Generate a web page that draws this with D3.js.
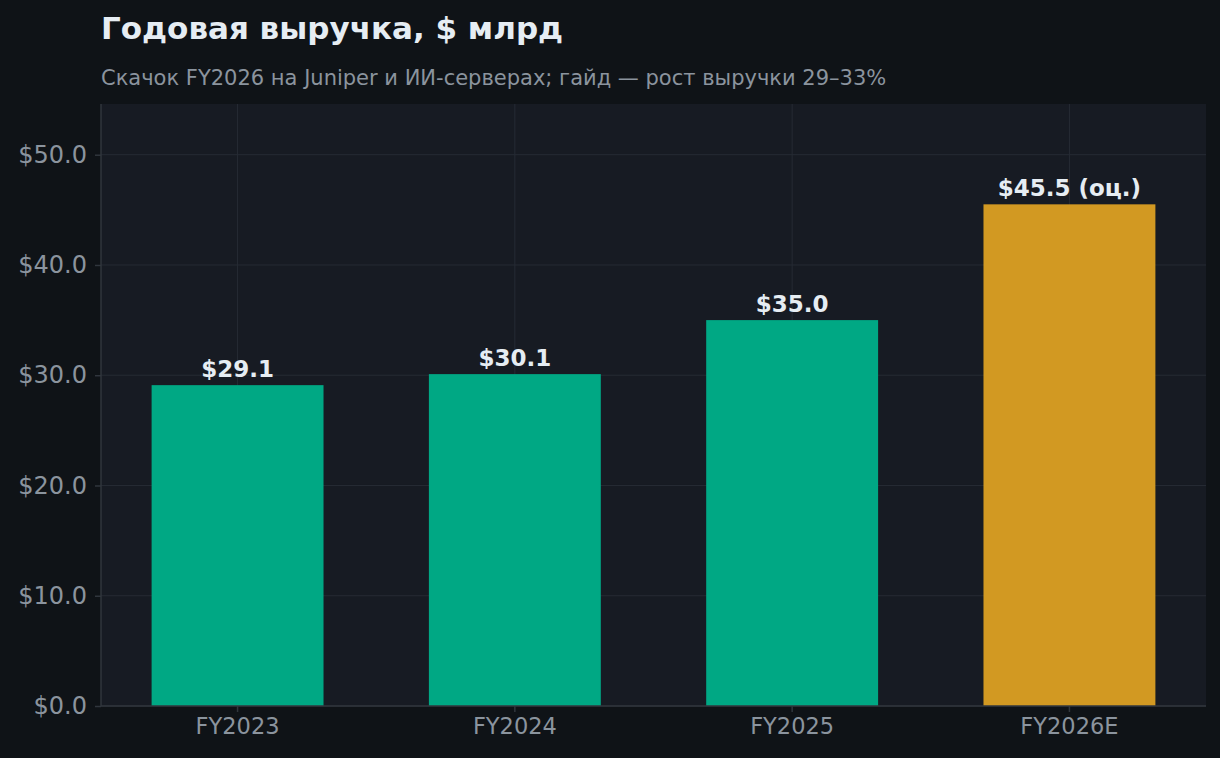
<!DOCTYPE html>
<html>
<head>
<meta charset="utf-8">
<script src="https://cdn.jsdelivr.net/npm/d3@7"></script>
<style>
  body { margin: 0; background: #0f1317; }
  svg { display: block; font-family: "DejaVu Sans", sans-serif; }
</style>
</head>
<body>
<div id="chart"></div>
<script>
// chart data
var years = ["FY2023", "FY2024", "FY2025", "FY2026E"];
var revenue = [29.1, 30.1, 35.0, 45.5];
var barLabels = ["$29.1", "$30.1", "$35.0", "$45.5 (оц.)"];
var isEstimate = [false, false, false, true];
var yTicks = [0, 10, 20, 30, 40, 50];

var width = 1220, height = 758;
var margin = { top: 104, right: 14, bottom: 52, left: 101 };
var plotW = width - margin.left - margin.right;
var plotH = height - margin.top - margin.bottom;

var svg = d3.select("#chart").append("svg")
    .attr("width", width)
    .attr("height", height);

svg.append("rect").attr("width", width).attr("height", height).attr("fill", "#0f1317");

// title + subtitle
svg.append("text")
    .attr("x", 101).attr("y", 38.5)
    .attr("fill", "#e6edf3")
    .attr("font-size", 31).attr("font-weight", "bold")
    .text("Годовая выручка, $ млрд");

svg.append("text")
    .attr("x", 101).attr("y", 84.5)
    .attr("fill", "#8b949e")
    .attr("font-size", 21)
    .text("Скачок FY2026 на Juniper и ИИ-серверах; гайд — рост выручки 29–33%");

var g = svg.append("g").attr("transform", `translate(${margin.left},${margin.top})`);

g.append("rect").attr("width", plotW).attr("height", plotH).attr("fill", "#171b23");

// scales
var x = d3.scaleBand().domain(years).range([0, plotW]).paddingInner(0.38).paddingOuter(0.1825);
var y = d3.scaleLinear().domain([0, d3.max(revenue) * 1.2]).range([plotH, 0]);

// grid
g.selectAll(".hgrid").data(yTicks).enter().append("line")
    .attr("x1", 0).attr("x2", plotW)
    .attr("y1", d => y(d)).attr("y2", d => y(d))
    .attr("stroke", "#262b34").attr("stroke-width", 1);

g.selectAll(".vgrid").data(years).enter().append("line")
    .attr("x1", d => x(d) + x.bandwidth() / 2).attr("x2", d => x(d) + x.bandwidth() / 2)
    .attr("y1", 0).attr("y2", plotH)
    .attr("stroke", "#262b34").attr("stroke-width", 1);

// bars
g.selectAll(".bar").data(years).enter().append("rect")
    .attr("x", d => x(d))
    .attr("width", x.bandwidth())
    .attr("y", (d, i) => y(revenue[i]))
    .attr("height", (d, i) => plotH - y(revenue[i]))
    .attr("fill", (d, i) => isEstimate[i] ? "#d29922" : "#00a884");

// value labels
g.selectAll(".val").data(years).enter().append("text")
    .attr("x", d => x(d) + x.bandwidth() / 2)
    .attr("y", (d, i) => y(revenue[i]) - 8)
    .attr("text-anchor", "middle")
    .attr("fill", "#e6edf3")
    .attr("font-size", 23).attr("font-weight", "bold")
    .text((d, i) => barLabels[i]);

// axes
var yAxis = d3.axisLeft(y).tickValues(yTicks).tickFormat(d => "$" + d3.format(".1f")(d)).tickSize(6).tickPadding(8);
var xAxis = d3.axisBottom(x).tickSize(6).tickPadding(6);

var ya = g.append("g").call(yAxis);
var xa = g.append("g").attr("transform", `translate(0,${plotH})`).call(xAxis);

[ya, xa].forEach(function(a) {
    a.select(".domain").attr("stroke", "#30363d").attr("stroke-width", 1.5);
    a.selectAll(".tick line").attr("stroke", "#30363d").attr("stroke-width", 1.5);
    a.selectAll(".tick text").attr("fill", "#8b949e")
        .attr("font-family", "DejaVu Sans, sans-serif");
});
ya.selectAll(".tick text").attr("font-size", 24);
xa.selectAll(".tick text").attr("font-size", 22.5);
ya.select(".domain").attr("d", `M0,${plotH}V0`);
xa.select(".domain").attr("d", `M0,0H${plotW}`);
</script>
</body>
</html>
